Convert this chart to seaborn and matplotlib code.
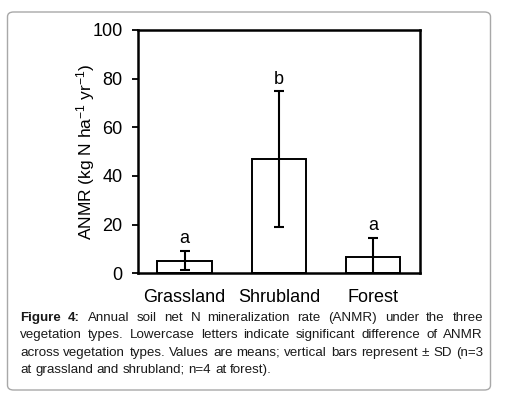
import matplotlib
matplotlib.use('Agg')
import matplotlib.pyplot as plt
import seaborn as sns
import pandas as pd
from matplotlib.patches import FancyBboxPatch

categories = ['Grassland', 'Shrubland', 'Forest']
means = [5.2, 46.9, 6.6]
sds = [3.9, 27.9, 7.8]
letters = ['a', 'b', 'a']
yticks = [0, 20, 40, 60, 80, 100]
ylabel = 'ANMR (kg N ha$^{-1}$ yr$^{-1}$)'
caption_lines = [
    [('Figure', True), ('4:', True), ('Annual', False), ('soil', False), ('net', False), ('N', False),
     ('mineralization', False), ('rate', False), ('(ANMR)', False), ('under', False), ('the', False), ('three', False)],
    [(w, False) for w in 'vegetation types. Lowercase letters indicate significant difference of ANMR'.split()],
    [(w, False) for w in 'across vegetation types. Values are means; vertical bars represent \u00b1 SD (n=3'.split()],
    [(w, False) for w in 'at grassland and shrubland; n=4 at forest).'.split()],
]
justify = [True, True, True, False]

sns.set_theme(style='white')
plt.rcParams['font.family'] = ['Liberation Sans', 'DejaVu Sans']
plt.rcParams['mathtext.fontset'] = 'custom'
plt.rcParams['mathtext.rm'] = 'Liberation Sans'
plt.rcParams['mathtext.it'] = 'Liberation Sans'

W, H = 509, 393
fig = plt.figure(figsize=(W / 100, H / 100), dpi=100)
fig.patch.set_facecolor('white')

# rounded frame
frame = FancyBboxPatch((7.5 / W, 3 / H), 483 / W, 378 / H,
                       boxstyle='round,pad=0,rounding_size=0.012',
                       transform=fig.transFigure, facecolor='none',
                       edgecolor='#a8a8a8', linewidth=1.0)
fig.add_artist(frame)

ax = fig.add_axes([137.7 / W, 1 - 273.3 / H, (420 - 137.7) / W, (273.3 - 30) / H])
df = pd.DataFrame({'veg': categories, 'anmr': means})
sns.barplot(data=df, x='veg', y='anmr', ax=ax, color='white', edgecolor='black',
            linewidth=1.4, width=0.58, saturation=1, errorbar=None)
ax.errorbar(range(len(categories)), means, yerr=sds, fmt='none', ecolor='black',
            elinewidth=1.5, capsize=3.3, capthick=1.5, zorder=5)
for i, (m, s, l) in enumerate(zip(means, sds, letters)):
    ax.text(i, m + s + 3.2, l, ha='center', va='baseline', fontsize=13, color='black')

ax.set_xlim(-0.5, 2.5)
ax.set_ylim(0, 100)
ax.set_yticks(yticks)
ax.set_yticklabels([str(t) for t in yticks], fontsize=13)
ax.tick_params(axis='y', direction='out', length=4.5, width=1.3, color='black', pad=6.5, labelcolor='black', left=True)
ax.tick_params(axis='x', length=0, pad=11, labelsize=13, labelcolor='black')
ax.set_xlabel('')
ax.set_ylabel(ylabel, fontsize=12.5, color='black')
ax.yaxis.label.set_va('center')
ax.yaxis.set_label_coords(-0.185, 0.5)
for sp in ax.spines.values():
    sp.set_visible(True)
    sp.set_color('black')
    sp.set_linewidth(1.8)

# justified caption
fig.canvas.draw()
renderer = fig.canvas.get_renderer()
fs = 9.6


def measure(s, bold=False):
    t = fig.text(0, 0, s, fontsize=fs, fontweight='bold' if bold else 'normal')
    w = t.get_window_extent(renderer).width
    t.remove()
    return w


space = measure('a a') - measure('aa')
x0, x1 = 20, 483
ys = [321.0, 338.3, 355.6, 372.9]
for line, just, yb in zip(caption_lines, justify, ys):
    widths = [measure(w, b) for w, b in line]
    if just and len(line) > 1:
        gap = (x1 - x0 - sum(widths)) / (len(line) - 1)
    else:
        gap = space
    x = x0
    for (w, bold), wd in zip(line, widths):
        fig.text(x / W, 1 - yb / H, w, fontsize=fs, fontweight='bold' if bold else 'normal',
                 color='#1a1a1a', va='baseline', ha='left')
        x += wd + gap

fig.savefig('out.png', dpi=100, facecolor='white')
